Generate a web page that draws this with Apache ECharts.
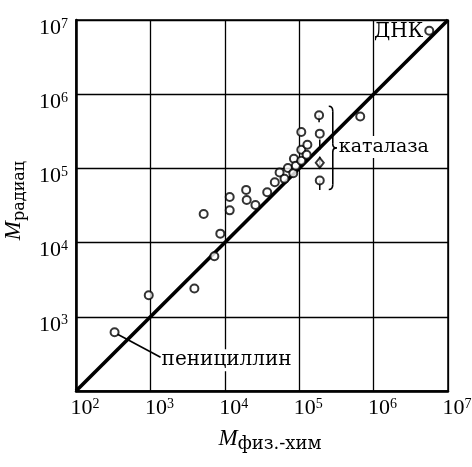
<!DOCTYPE html>
<html><head><meta charset="utf-8">
<script src="https://cdn.jsdelivr.net/npm/echarts@6/dist/echarts.min.js"></script>
<style>html,body{margin:0;padding:0;background:#fff}#c{width:472px;height:467px}</style>
</head><body><div id="c"></div>
<script>
// Axis range (decades)
const axisMin = 100;
const axisMax = 1e7;
// Molecular weights: physico-chemical (x) vs radiation (y)
const proteinsX = [950, 3900, 5200, 7240, 8700, 11640, 11640, 19360, 19700, 25800, 37150, 47000, 54500, 63500, 70500, 83200, 84900, 90200, 106700, 106700, 128800, 125900, 106700, 661000];
const proteinsY = [1950, 2400, 24300, 6550, 13200, 41200, 27200, 51300, 37600, 32100, 47750, 65200, 87900, 72300, 101000, 86300, 134900, 108400, 126800, 178600, 208900, 152800, 309000, 501000];
const catalaseX = [185000, 189000, 189000];
const catalaseY = [521000, 294000, 68600];
const catalaseDiamondX = [189000];
const catalaseDiamondY = [119000];
const catalaseStemX = [185000, 189000, 189000, 189000];
const catalaseStemFrom = [521000, 245000, 144000, 68600];
const catalaseStemTo = [420000, 178000, 99000, 51300];
const dnaX = [5600000];
const dnaY = [7160000];
const penicillinX = [330];
const penicillinY = [620];
const identityX = [100, 1e7];
const identityY = [100, 1e7];

const SERIF = 'Liberation Serif';
const TEXTSERIF = 'DejaVu Serif';
const zip = (a, b) => a.map((v, i) => [v, b[i]]);
const expOf = v => Math.round(Math.log10(v));

const stemSeries = catalaseStemX.map((x, i) => ({
  type: 'line', data: [[x, catalaseStemFrom[i]], [x, catalaseStemTo[i]]],
  symbol: 'none', lineStyle: {color: '#000', width: 1.5}, z: 3, silent: true
}));

const pointStyle = {color: '#000', borderColor: '#000', borderWidth: 1.6};

const option = {
  backgroundColor: '#fff',
  animation: false,
  grid: {left: 76, right: 24, top: 20, bottom: 76, show: true, borderColor: '#000', borderWidth: 1.5, backgroundColor: 'transparent', containLabel: false, outerBoundsMode: 'none'},
  xAxis: {
    type: 'log', logBase: 10, min: axisMin, max: axisMax,
    axisLine: {show: true, lineStyle: {color: '#000', width: 2.5}},
    axisTick: {show: false},
    splitLine: {show: true, lineStyle: {color: '#000', width: 1.3}},
    axisLabel: {
      margin: 6, color: '#000', hideOverlap: false,
      formatter: v => '{sp|}{b|10}{s|' + expOf(v) + '}',
      rich: {
        sp: {width: 18},
        b: {fontFamily: SERIF, fontSize: 22, lineHeight: 22, color: '#000'},
        s: {fontFamily: SERIF, fontSize: 14, lineHeight: 14, verticalAlign: 'top', color: '#000'}
      }
    },
    name: '{m|M}{sub|физ.-хим}', nameLocation: 'middle', nameGap: 36,
    nameTextStyle: {
      padding: [0, 0, 0, 16],
      rich: {
        m: {fontFamily: SERIF, fontStyle: 'italic', fontSize: 23, color: '#000', verticalAlign: 'bottom'},
        sub: {fontFamily: TEXTSERIF, fontSize: 18, color: '#000', verticalAlign: 'bottom', padding: [0, 0, -3, 0]}
      }
    }
  },
  yAxis: {
    type: 'log', logBase: 10, min: axisMin, max: axisMax,
    axisLine: {show: true, lineStyle: {color: '#000', width: 2.5}},
    axisTick: {show: false},
    splitLine: {show: true, lineStyle: {color: '#000', width: 1.3}},
    axisLabel: {
      margin: 8, color: '#000', padding: [16, 0, 0, 0], hideOverlap: false,
      formatter: v => v <= axisMin ? '' : '{b|10}{s|' + expOf(v) + '}',
      rich: {
        b: {fontFamily: SERIF, fontSize: 22, lineHeight: 22, color: '#000'},
        s: {fontFamily: SERIF, fontSize: 14, lineHeight: 14, verticalAlign: 'top', color: '#000'}
      }
    },
    name: '{m|M}{sub|радиац}', nameLocation: 'middle', nameGap: 44,
    nameTextStyle: {
      padding: [0, 0, 0, 10],
      rich: {
        m: {fontFamily: SERIF, fontStyle: 'italic', fontSize: 23, color: '#000', verticalAlign: 'bottom'},
        sub: {fontFamily: TEXTSERIF, fontSize: 16, color: '#000', verticalAlign: 'bottom', padding: [0, 0, -3, 0]}
      }
    }
  },
  series: [
    {type: 'line', data: zip(identityX, identityY), symbol: 'none', lineStyle: {color: '#000', width: 3.6}, z: 2, silent: true},
    ...stemSeries,
    {type: 'scatter', data: zip(proteinsX, proteinsY), symbol: 'emptyCircle', symbolSize: 8, itemStyle: pointStyle, z: 5},
    {type: 'scatter', data: zip(catalaseX, catalaseY), symbol: 'emptyCircle', symbolSize: 8, itemStyle: pointStyle, z: 5},
    {type: 'scatter', data: zip(catalaseDiamondX, catalaseDiamondY), symbol: 'emptyDiamond', symbolSize: [8, 10], itemStyle: pointStyle, z: 5},
    {type: 'scatter', data: zip(dnaX, dnaY), symbol: 'emptyCircle', symbolSize: 8, itemStyle: pointStyle, z: 5},
    {type: 'scatter', data: zip(penicillinX, penicillinY), symbol: 'emptyCircle', symbolSize: 8, itemStyle: pointStyle, z: 5}
  ]
};

const chart = echarts.init(document.getElementById('c'));
chart.setOption(option);

const px = (x, y) => chart.convertToPixel({gridIndex: 0}, [x, y]);
const pen = px(penicillinX[0], penicillinY[0]);
const dna = px(dnaX[0], dnaY[0]);
const catTop = px(catalaseX[0], catalaseY[0]);
const catBot = px(catalaseX[2], catalaseY[2]);
const catMid = px(catalaseDiamondX[0], catalaseDiamondY[0]);
const bx = catMid[0] + 9, yT = catTop[1] - 9, yB = catBot[1] + 9, yM = (yT + yB) / 2;
const bStyle = {stroke: '#000', lineWidth: 1.6, fill: null};
const braceParts = [
  {type: 'bezierCurve', shape: {x1: bx, y1: yT, cpx1: bx + 4, cpy1: yT, x2: bx + 4, y2: yT + 5}, style: bStyle, z: 10},
  {type: 'line', shape: {x1: bx + 4, y1: yT + 5, x2: bx + 4, y2: yM - 4}, style: bStyle, z: 10},
  {type: 'bezierCurve', shape: {x1: bx + 4, y1: yM - 4, cpx1: bx + 4, cpy1: yM, x2: bx + 8, y2: yM}, style: bStyle, z: 10},
  {type: 'bezierCurve', shape: {x1: bx + 8, y1: yM, cpx1: bx + 4, cpy1: yM, x2: bx + 4, y2: yM + 4}, style: bStyle, z: 10},
  {type: 'line', shape: {x1: bx + 4, y1: yM + 4, x2: bx + 4, y2: yB - 5}, style: bStyle, z: 10},
  {type: 'bezierCurve', shape: {x1: bx + 4, y1: yB - 5, cpx1: bx + 4, cpy1: yB, x2: bx, y2: yB}, style: bStyle, z: 10}
];

chart.setOption({
  graphic: [
    {type: 'line', shape: {x1: pen[0] + 3, y1: pen[1] + 2, x2: pen[0] + 46, y2: pen[1] + 25}, style: {stroke: '#000', lineWidth: 1.6}, z: 10},
    {type: 'rect', shape: {x: pen[0] + 46, y: pen[1] + 17, width: 134, height: 22}, style: {fill: '#fff'}, z: 9},
    {type: 'text', x: pen[0] + 47, y: pen[1] + 28, style: {text: 'пенициллин', fill: '#000', font: '20px "DejaVu Serif"', verticalAlign: 'middle', align: 'left'}, z: 10},
    {type: 'text', x: dna[0] - 6, y: dna[1] + 1, style: {text: 'ДНК', fill: '#000', font: '20px "DejaVu Serif"', verticalAlign: 'middle', align: 'right'}, z: 10},
    ...braceParts,
    {type: 'rect', shape: {x: bx + 10, y: yM - 12, width: 96, height: 22}, style: {fill: '#fff'}, z: 9},
    {type: 'text', x: bx + 10, y: yM - 1, style: {text: 'каталаза', fill: '#000', font: '19px "DejaVu Serif"', verticalAlign: 'middle', align: 'left'}, z: 10}
  ]
});
</script>
</body></html>
